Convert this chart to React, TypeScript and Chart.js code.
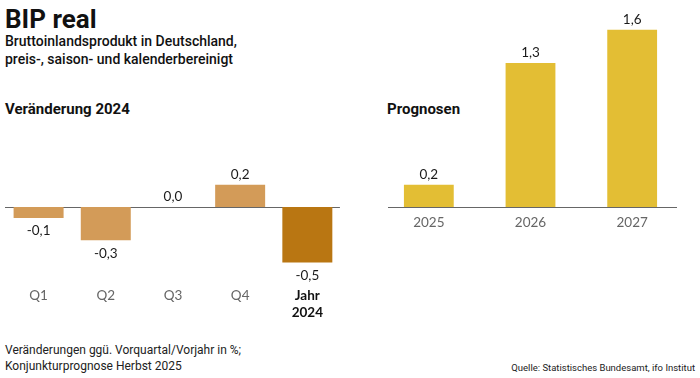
import React, { useEffect, useRef } from "react";
import { Chart, registerables } from "chart.js";

Chart.register(...registerables);

const quarterLabels: (string | string[])[] = ["Q1", "Q2", "Q3", "Q4", ["Jahr", "2024"]];
const quarterValues = [-0.1, -0.3, 0.0, 0.2, -0.5];
const quarterColors = ["#D39B58", "#D39B58", "#D39B58", "#D39B58", "#B97612"];

const forecastLabels = ["2025", "2026", "2027"];
const forecastValues = [0.2, 1.3, 1.6];
const forecastColor = "#E3BE34";

const FONT = "Lato, 'Noto Sans', sans-serif";
const HEAD = "Roboto, 'Noto Sans', sans-serif";

const fmt = (v: number) => v.toFixed(1).replace(".", ",");

const zeroLinePlugin = {
  id: "zeroLine",
  beforeDatasetsDraw(chart: any, _args: any, opts: any) {
    const { ctx, chartArea, scales } = chart;
    const y = Math.round(scales.y.getPixelForValue(0)) + 0.5;
    ctx.save();
    ctx.strokeStyle = opts.color || "#666";
    ctx.lineWidth = 1;
    ctx.beginPath();
    ctx.moveTo(chartArea.left + (opts.insetLeft || 0), y);
    ctx.lineTo(chartArea.right - (opts.insetRight || 0), y);
    ctx.stroke();
    ctx.restore();
  },
};

const valueLabelPlugin = {
  id: "valueLabels",
  afterDatasetsDraw(chart: any) {
    const { ctx } = chart;
    ctx.save();
    ctx.font = `13.5px ${FONT}`;
    ctx.fillStyle = "#1a1a1a";
    ctx.textAlign = "center";
    ctx.textBaseline = "middle";
    chart.data.datasets.forEach((ds: any, di: number) => {
      const meta = chart.getDatasetMeta(di);
      meta.data.forEach((el: any, i: number) => {
        const v = ds.data[i] as number;
        const y = v >= 0 ? el.y - 10 : el.y + 13;
        ctx.fillText(fmt(v), el.x, y);
      });
    });
    ctx.restore();
  },
};

function BarChart(props: {
  labels: (string | string[])[];
  values: number[];
  colors: string[] | string;
  min: number;
  max: number;
  barPct: number;
  axisHeight: number;
  tickPad: number;
  padTop: number;
  insetLeft: number;
  insetRight: number;
  boldLast?: boolean;
  style: React.CSSProperties;
}) {
  const ref = useRef<HTMLCanvasElement>(null);
  useEffect(() => {
    if (!ref.current) return;
    const chart = new Chart(ref.current, {
      type: "bar",
      data: {
        labels: props.labels as any,
        datasets: [
          {
            data: props.values,
            backgroundColor: props.colors as any,
            barPercentage: props.barPct,
            categoryPercentage: 1,
            borderWidth: 0,
          },
        ],
      },
      options: {
        animation: false,
        responsive: false,
        maintainAspectRatio: false,
        layout: { padding: { top: props.padTop, left: 0, right: 0, bottom: 0 } },
        plugins: {
          legend: { display: false },
          tooltip: { enabled: false },
          title: { display: false },
          zeroLine: { color: "#666", insetLeft: props.insetLeft, insetRight: props.insetRight },
        } as any,
        scales: {
          x: {
            grid: { display: false, drawTicks: false },
            border: { display: false },
            ticks: {
              padding: props.tickPad,
              maxRotation: 0,
              autoSkip: false,
              color: (c: any) => (props.boldLast && c.index === props.values.length - 1 ? "#111" : "#666"),
              font: (c: any) => ({
                family: FONT,
                size: 13.5,
                weight: props.boldLast && c.index === props.values.length - 1 ? "bold" : "normal",
                lineHeight: 1.2,
              }),
            },
            afterFit: (scale: any) => {
              scale.height = props.axisHeight;
            },
          },
          y: {
            display: false,
            min: props.min,
            max: props.max,
          },
        },
      },
      plugins: [zeroLinePlugin, valueLabelPlugin],
    });
    return () => chart.destroy();
  }, []);
  const w = props.style.width as number;
  const h = props.style.height as number;
  return <canvas ref={ref} width={w} height={h} style={{ position: "absolute", ...props.style }} />;
}

function T(p: {
  x?: number;
  right?: number;
  baseline: number;
  size: number;
  weight?: number;
  color?: string;
  family?: string;
  lh?: number;
  spacing?: number;
  children: React.ReactNode;
}) {
  const f = p.size;
  const L = p.lh ?? f;
  const top = p.baseline - (L - 1.171 * f) / 2 - 0.927 * f;
  const style: React.CSSProperties = {
    position: "absolute",
    top,
    fontFamily: p.family ?? HEAD,
    fontSize: f,
    fontWeight: p.weight ?? 400,
    color: p.color ?? "#111",
    lineHeight: `${L}px`,
    whiteSpace: "pre",
    letterSpacing: p.spacing ?? 0,
  };
  if (p.right !== undefined) {
    style.right = 700 - p.right;
    style.textAlign = "right";
  } else style.left = p.x;
  return <div style={style}>{p.children}</div>;
}

export default function App() {
  useEffect(() => {
    document.body.style.margin = "0";
  }, []);
  const pxPerUnit = 111;
  // left chart: area top 140, bottom 270, zero at 207
  const lMax = (207 - 140) / pxPerUnit;
  const lMin = -(270 - 207) / pxPerUnit;
  // right chart: area top 20, zero at 207.3
  const rMax = (207.3 - 20) / pxPerUnit;
  return (
    <div style={{ position: "absolute", left: 0, top: 0, width: 700, height: 378, background: "#fff", overflow: "hidden" }}>
      <T x={5} baseline={28} size={26} weight={700}>BIP real</T>
      <T x={5} baseline={46.7} size={14} weight={500} lh={17.3}>
        {"Bruttoinlandsprodukt in Deutschland,\npreis-, saison- und kalenderbereinigt"}
      </T>
      <T x={5} baseline={115} size={15} weight={700}>Veränderung 2024</T>
      <T x={387} baseline={115} size={15} weight={700}>Prognosen</T>
      <T x={5} baseline={354} size={12} lh={16.5} color="#222">
        {"Veränderungen ggü. Vorquartal/Vorjahr in %;\nKonjunkturprognose Herbst 2025"}
      </T>
      <T right={695} baseline={371} size={9.5} color="#222">Quelle: Statistisches Bundesamt, ifo Institut</T>
      <BarChart
        labels={quarterLabels}
        values={quarterValues}
        colors={quarterColors}
        min={lMin}
        max={lMax}
        barPct={0.744}
        axisHeight={60}
        tickPad={18}
        padTop={20}
        insetLeft={-2}
        insetRight={1}
        boldLast
        style={{ left: 5, top: 120, width: 336, height: 210 }}
      />
      <BarChart
        labels={forecastLabels}
        values={forecastValues}
        colors={forecastColor}
        min={0}
        max={rMax}
        barPct={0.49}
        axisHeight={40}
        tickPad={8}
        padTop={20}
        insetLeft={10}
        insetRight={6}
        style={{ left: 378, top: 0, width: 305, height: 247.3 }}
      />
    </div>
  );
}
